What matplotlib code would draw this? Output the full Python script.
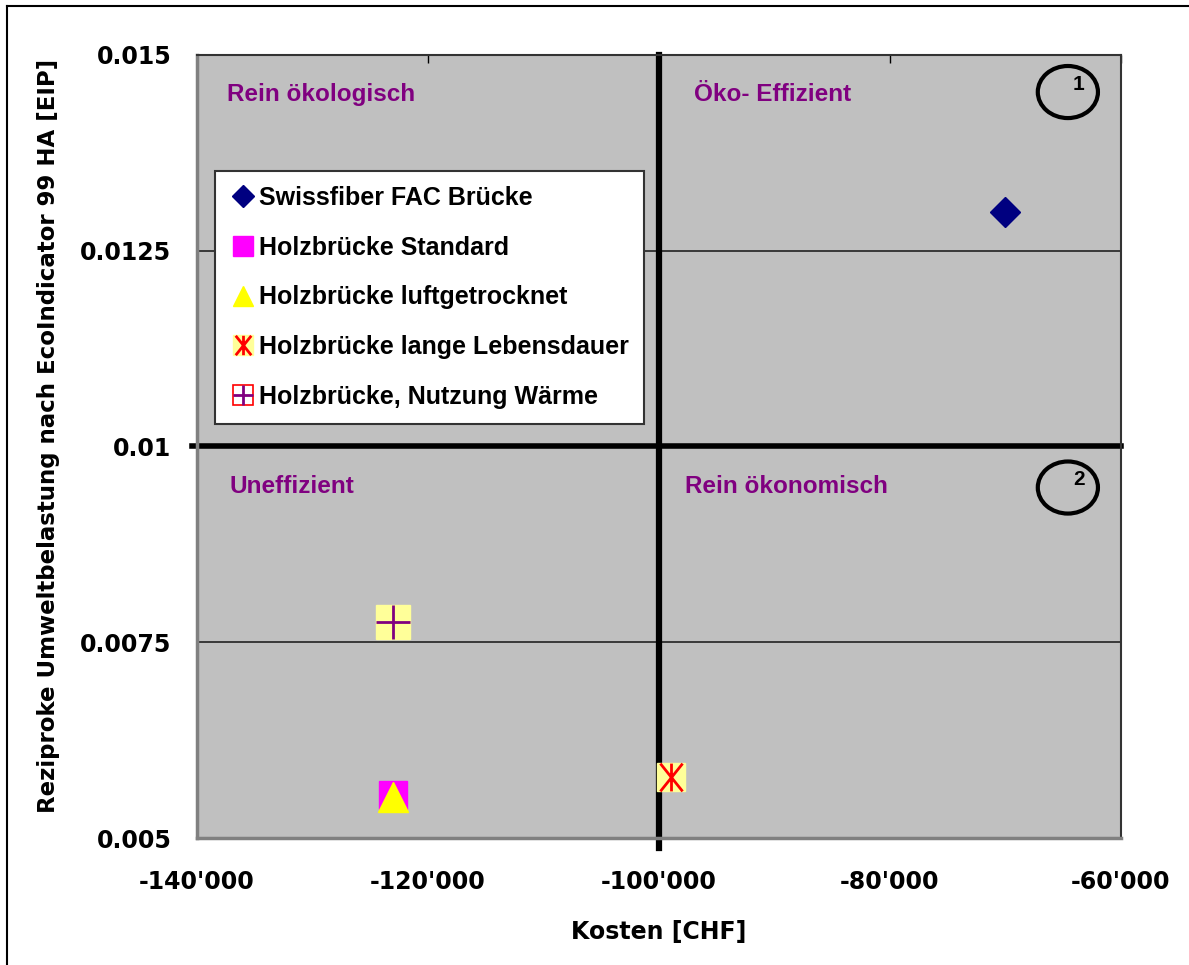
import matplotlib
matplotlib.use("Agg")
import matplotlib.pyplot as plt
from matplotlib.lines import Line2D
from matplotlib.patches import Ellipse
from matplotlib.path import Path
from matplotlib.ticker import FuncFormatter

plt.rcParams['font.family'] = ['Liberation Sans', 'DejaVu Sans']
plt.rcParams['font.weight'] = 'bold'

# data (Kosten [CHF], reziproke Umweltbelastung [EIP])
names = ['Swissfiber FAC Brücke', 'Holzbrücke Standard', 'Holzbrücke luftgetrocknet',
         'Holzbrücke lange Lebensdauer', 'Holzbrücke, Nutzung Wärme']
kosten = [-70000, -123000, -123000, -99000, -123000]
eip = [0.0130, 0.00555, 0.00553, 0.00578, 0.00776]

x_ticks = [-140000, -120000, -100000, -80000, -60000]
y_ticks = [0.005, 0.0075, 0.01, 0.0125, 0.015]
y_tick_labels = ['0.005', '0.0075', '0.01', '0.0125', '0.015']

quadrants = ['Rein ökologisch', 'Öko- Effizient', 'Uneffizient', 'Rein ökonomisch']

purple = '#800080'
pale = '#FFFF99'
axis_font = dict(family='DejaVu Sans', weight='bold', size=17)

# Excel-style asterisk: vertical bar plus an X
asterisk = Path([(0, -1), (0, 1), (-0.8, -1), (0.8, 1), (-0.8, 1), (0.8, -1)],
                [Path.MOVETO, Path.LINETO, Path.MOVETO, Path.LINETO, Path.MOVETO, Path.LINETO])

fig = plt.figure(figsize=(11.89, 9.65), dpi=100)
ax = fig.add_axes([197 / 1189, 1 - 838 / 965, 924 / 1189, 783 / 965])
ax.set_facecolor('#C0C0C0')

ax.set_xlim(-140000, -60000)
ax.set_ylim(0.005, 0.015)
ax.set_xticks(x_ticks)
ax.set_yticks(y_ticks)
ax.set_yticklabels(y_tick_labels)
ax.xaxis.set_major_formatter(FuncFormatter(lambda v, p: f"{int(v):,}".replace(',', "'")))
ax.tick_params(axis='x', which='both', bottom=False, top=True, direction='in',
               length=6, width=1, pad=23)
ax.tick_params(axis='y', left=False, pad=15)
for lab in ax.get_xticklabels() + ax.get_yticklabels():
    lab.set_fontproperties(axis_font)

for y in [0.0075, 0.0125]:
    ax.axhline(y, color='#222222', lw=1.2, zorder=1)

for side in ['top', 'right']:
    ax.spines[side].set_color('#333333')
    ax.spines[side].set_linewidth(1.5)
for side in ['left', 'bottom']:
    ax.spines[side].set_color('#808080')
    ax.spines[side].set_linewidth(2.5)

# quadrant separators
ax.axvline(-100000, ymin=-0.013, ymax=1, color='black', lw=4.5, clip_on=False, zorder=2)
ax.axhline(0.01, xmin=-0.005, xmax=1, color='black', lw=4, clip_on=False, zorder=2)

# points
ax.plot(kosten[0], eip[0], 'D', color='#000080', ms=15, mec='#000080', zorder=5)
ax.plot(kosten[1], eip[1], 's', color='#FF00FF', ms=20, mec='#FF00FF', zorder=5)
ax.plot(kosten[2], eip[2], '^', color='#FFFF00', ms=21, mec='#FFFF00', zorder=6)
ax.plot(kosten[3], eip[3], 's', color=pale, ms=20, mec=pale, zorder=5)
ax.plot(kosten[3], eip[3], marker=asterisk, color='red', ms=20, mew=2, zorder=6)
ax.plot(kosten[4], eip[4], 's', color=pale, ms=24, mec=pale, zorder=5)
ax.plot(kosten[4], eip[4], '+', color=purple, ms=25, mew=2, zorder=6)

# quadrant labels
ax.text(0.033, 0.949, quadrants[0], transform=ax.transAxes, color=purple,
        fontsize=17.5, va='center', ha='left')
ax.text(0.538, 0.949, quadrants[1], transform=ax.transAxes, color=purple,
        fontsize=17.5, va='center', ha='left')
ax.text(0.035, 0.449, quadrants[2], transform=ax.transAxes, color=purple,
        fontsize=17.5, va='center', ha='left')
ax.text(0.528, 0.449, quadrants[3], transform=ax.transAxes, color=purple,
        fontsize=17.5, va='center', ha='left')

# numbered circles
for yc, num in [(0.9527, '1'), (0.4476, '2')]:
    ax.add_patch(Ellipse((0.9425, yc), 0.0651, 0.0665, transform=ax.transAxes,
                         fill=False, ec='black', lw=3, zorder=4))
    ax.text(0.9545, yc + 0.01, num, transform=ax.transAxes, fontsize=15,
            ha='center', va='center', zorder=5)

ax.set_xlabel('Kosten [CHF]', fontdict=axis_font, labelpad=19)
ax.set_ylabel('Reziproke Umweltbelastung nach EcoIndicator 99 HA [EIP]',
              fontdict=dict(axis_font, size=16.5), labelpad=14)
ax.yaxis.label.set_y(0.513)

# legend
h_diamond = Line2D([], [], ls='none', marker='D', color='#000080', ms=11)
h_square = Line2D([], [], ls='none', marker='s', color='#FF00FF', ms=14)
h_tri = Line2D([], [], ls='none', marker='^', color='#FFFF00', ms=15)
h_ast = (Line2D([], [], ls='none', marker='s', color=pale, ms=14),
         Line2D([], [], ls='none', marker=asterisk, color='red', ms=14, mew=2))
h_plus = (Line2D([], [], ls='none', marker='s', mfc='none', mec='red', ms=14, mew=1.2),
          Line2D([], [], ls='none', marker='+', color=purple, ms=15, mew=2))
leg = ax.legend([h_diamond, h_square, h_tri, h_ast, h_plus], names,
                loc='upper left', bbox_to_anchor=(0.0195, 0.852), fontsize=18,
                frameon=True, fancybox=False, edgecolor='#333333', framealpha=1,
                handlelength=1.0, handletextpad=0.15, labelspacing=1.03,
                borderpad=0.6, borderaxespad=0)
leg.get_frame().set_linewidth(1.5)
leg.set_zorder(7)

# outer frame of the chart area
fig.add_artist(Line2D([7 / 1189, 7 / 1189], [0, 1 - 6 / 965], color='black', lw=1.5))
fig.add_artist(Line2D([7 / 1189, 1], [1 - 6 / 965, 1 - 6 / 965], color='black', lw=1.5))

fig.savefig('out.png', dpi=100)
